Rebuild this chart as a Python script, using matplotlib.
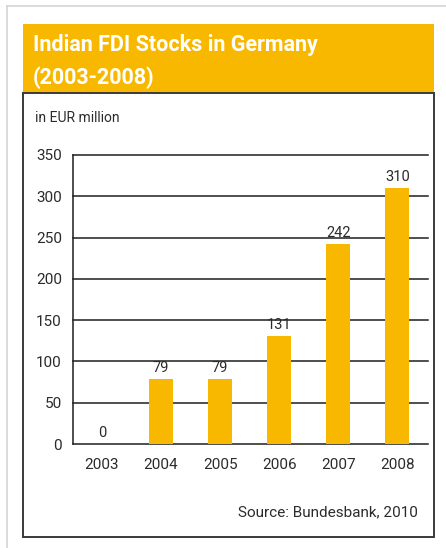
import matplotlib
matplotlib.use("Agg")
import matplotlib.pyplot as plt
from matplotlib.patches import Rectangle
from matplotlib.lines import Line2D

years = ["2003", "2004", "2005", "2006", "2007", "2008"]
values = [0, 79, 79, 131, 242, 310]
yticks = [0, 50, 100, 150, 200, 250, 300, 350]

W, H = 446, 548
ORANGE = "#F9B800"
TXT = "#2b2b2b"
fig = plt.figure(figsize=(W / 100, H / 100), dpi=100)
fig.patch.set_facecolor("white")

def fx(x):
    return x / W

def fy(y):
    return 1 - y / H

# outer light gray frame lines
fig.add_artist(Line2D([fx(7), fx(W)], [fy(6), fy(6)], color="#d4d4d4", lw=1.2))
fig.add_artist(Line2D([fx(7), fx(7)], [fy(6), fy(H)], color="#d4d4d4", lw=1.2))

# header
fig.add_artist(Rectangle((fx(23), fy(93)), fx(434) - fx(23), fy(24) - fy(93),
                         facecolor=ORANGE, edgecolor="none", transform=fig.transFigure))
# box
fig.add_artist(Rectangle((fx(23), fy(537)), fx(434) - fx(23), fy(93) - fy(537),
                         facecolor="none", edgecolor="#3a3a3a", lw=1.4, transform=fig.transFigure))

title_font = ["Liberation Sans Narrow", "Roboto", "DejaVu Sans"]
fig.text(fx(33), fy(45), "Indian FDI Stocks in Germany", color="white", fontsize=15.5,
         fontweight="bold", family=title_font, va="center", ha="left")
fig.text(fx(33), fy(78), "(2003-2008)", color="white", fontsize=15.5,
         fontweight="bold", family=title_font, va="center", ha="left")

body_font = ["Roboto", "DejaVu Sans"]
fig.text(fx(35), fy(118), "in EUR million", color=TXT, fontsize=10, family=body_font,
         va="center", ha="left")
fig.text(fx(418), fy(512), "Source: Bundesbank, 2010", color=TXT, fontsize=11,
         family=body_font, va="center", ha="right")

ax = fig.add_axes([fx(73), fy(444), fx(428) - fx(73), fy(155) - fy(444)])
x = list(range(len(years)))
ax.bar(x, values, width=0.41, color=ORANGE, zorder=3)
for yv in yticks:
    ax.axhline(yv, color="#1e1e1e", lw=1.1, zorder=2, clip_on=False)
ax.set_xlim(-0.49, 5.52)
ax.set_ylim(0, 350)
ax.set_yticks(yticks)
ax.set_yticklabels([str(v) for v in yticks], family=body_font, fontsize=11, color=TXT)
ax.set_xticks(x)
ax.set_xticklabels(years, family=body_font, fontsize=11, color=TXT)
ax.tick_params(axis="both", length=0)
ax.tick_params(axis="y", pad=8)
ax.tick_params(axis="x", pad=10)
for s in ["top", "right", "bottom"]:
    ax.spines[s].set_visible(False)
ax.spines["left"].set_color("#1e1e1e")
ax.spines["left"].set_linewidth(1.1)
ax.patch.set_alpha(0)
for xi, v in zip(x, values):
    ax.annotate(str(v), (xi, v), xytext=(0, 3), textcoords="offset points",
                ha="center", va="bottom", fontsize=10.5, family=body_font, color=TXT, zorder=4)

fig.savefig("out.png", dpi=100)
